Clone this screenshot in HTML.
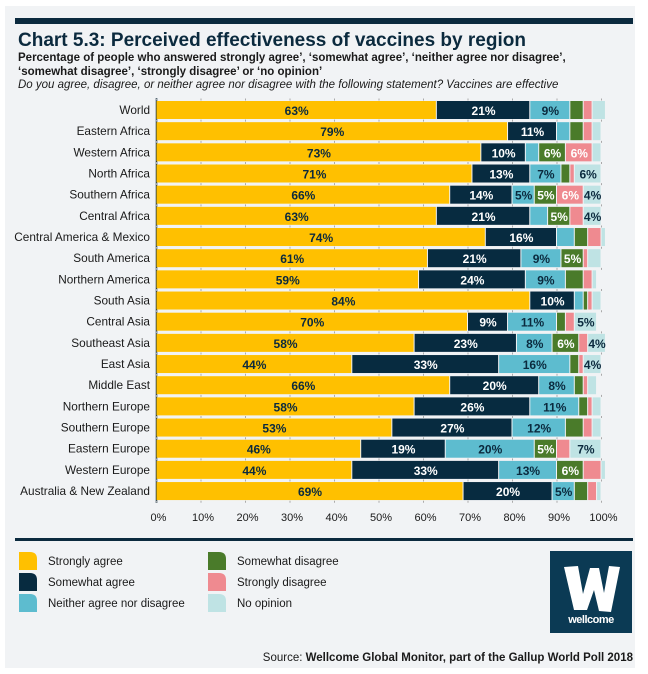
<!DOCTYPE html>
<html><head><meta charset="utf-8"><style>
body{margin:0;background:#fff;font-family:"Liberation Sans",sans-serif;}
svg text{font-family:"Liberation Sans",sans-serif;}
</style></head><body>
<svg id="c" width="648" height="669" xmlns="http://www.w3.org/2000/svg">
<rect x="5" y="6" width="630" height="662" fill="#f1f3f5"/>
<rect x="15" y="18" width="618" height="6" fill="#0b2a3e"/>
<text x="18" y="46" font-size="19" font-weight="bold" fill="#0b2a3e">Chart 5.3: Perceived effectiveness of vaccines by region</text>
<text x="18" y="61" font-size="11.5" font-weight="bold" fill="#1a1a1a">Percentage of people who answered strongly agree’, ‘somewhat agree’, ‘neither agree nor disagree’,</text>
<text x="18" y="75" font-size="11.5" font-weight="bold" fill="#1a1a1a">‘somewhat disagree’, ‘strongly disagree’ or ‘no opinion’</text>
<text x="18" y="88" font-size="11.5" font-style="italic" fill="#1a1a1a">Do you agree, disagree, or neither agree nor disagree with the following statement? Vaccines are effective</text>
<g id="plot"></g>
<rect x="15" y="538" width="618" height="3" fill="#0b2a3e"/>
<g id="legend"></g>
<g>
<rect x="550" y="551" width="82" height="82" fill="#0b3a54"/>
<path d="M564 567 L578 566 L583 594 L590 568 L599 568 L604 593 L609 566 L620 567 L611 612 L599 611 L594 590 L587 610 L574 610 Z" fill="#fff"/>
<text x="591" y="623" font-size="11" font-weight="bold" fill="#fff" text-anchor="middle" letter-spacing="-0.5">wellcome</text>
</g>
<text x="633" y="661" font-size="11.5" fill="#1a1a1a" text-anchor="end">Source: <tspan font-weight="bold">Wellcome Global Monitor, part of the Gallup World Poll 2018</tspan></text>
</svg>
<script>
const regions=["World","Eastern Africa","Western Africa","North Africa","Southern Africa","Central Africa","Central America & Mexico","South America","Northern America","South Asia","Central Asia","Southeast Asia","East Asia","Middle East","Northern Europe","Southern Europe","Eastern Europe","Western Europe","Australia & New Zealand"];
const stronglyAgree=[63,79,73,71,66,63,74,61,59,84,70,58,44,66,58,53,46,44,69];
const somewhatAgree=[21,11,10,13,14,21,16,21,24,10,9,23,33,20,26,27,19,33,20];
const neither=[9,3,3,7,5,4,4,9,9,2,11,8,16,8,11,12,20,13,5];
const somewhatDisagree=[3,3,6,2,5,5,3,5,4,1,2,6,2,2,2,4,5,6,3];
const stronglyDisagree=[2,2,6,1,6,3,3,1,2,1,2,2,1,1,1,2,3,4,2];
const noOpinion=[3,2,2,6,4,4,1,3,1,2,5,4,4,2,2,2,7,1,1];
const ticks=[0,10,20,30,40,50,60,70,80,90,100];
const seriesNames=["Strongly agree","Somewhat agree","Neither agree nor disagree","Somewhat disagree","Strongly disagree","No opinion"];
const series=[stronglyAgree,somewhatAgree,neither,somewhatDisagree,stronglyDisagree,noOpinion];
const colors=["#ffc000","#072b40","#5dbccf","#4a7b2a","#ef8a90","#bfe3e4"];
const labelColors=["#0b2a3e","#fff","#0b2a3e","#fff","#fff","#0b2a3e"];
const NS="http://www.w3.org/2000/svg";
const x0=156.5,pw=445;
const xs=v=>x0+v/100*pw;
const y0=110,step=21.17,bh=18;
const ys=i=>y0+i*step;
const plot=document.getElementById('plot');
function mk(t,a,p){const e=document.createElementNS(NS,t);for(const k in a)e.setAttribute(k,a[k]);(p||plot).appendChild(e);return e;}
const ax=mk('line',{x1:x0,x2:x0,y1:ys(0)-12,y2:ys(regions.length-1)+12,stroke:'#0b2a3e','stroke-width':1.5});


ticks.forEach(t=>{
  for(let i=0;i<=regions.length;i++){
    const tk=mk('line',{x1:xs(t),x2:xs(t),y1:ys(i)-11.5,y2:ys(i)-9.5,stroke:'#aaa','stroke-width':1});
    
    
  }
  const tl=mk('text',{x:xs(t)+2,y:521,'font-size':11,fill:'#1a1a1a','text-anchor':'middle'});
  tl.textContent=t+'%';
  
  
});
regions.forEach((r,i)=>{
  const cy=ys(i);
  const lab=mk('text',{x:150,y:cy+4,'font-size':11.8,fill:'#1a1a1a','text-anchor':'end'});
  lab.textContent=r;
  
  
  let acc=0;
  series.forEach((s,k)=>{
    const v=s[i];
    const rc=mk('rect',{x:xs(acc),y:cy-bh/2,width:Math.max(0,xs(acc+v)-xs(acc)-1),height:bh,fill:colors[k]});
    
    
    if(v>=5||(k===5&&v>=4)){
      const t=mk('text',{x:(xs(acc)+xs(acc+v))/2,y:cy+5,'font-size':12,'font-weight':'bold',fill:labelColors[k],'text-anchor':'middle'});
      t.textContent=v+'%';
      
      
    }
    acc+=v;
  });
});
const lg=document.getElementById('legend');
seriesNames.forEach((n,k)=>{
  const col=Math.floor(k/3),row=k%3;
  const lx=col?208:19,ly=552+row*21;
  const sw=mk('path',{d:`M${lx} ${ly} h11 q7 0 7 7 v11 h-18 z`,fill:colors[k]},lg);
  
  
  const t=mk('text',{x:lx+29,y:ly+13,'font-size':11.5,fill:'#1a1a1a'},lg);
  t.textContent=n;
  
  
});
</script>
</body></html>
